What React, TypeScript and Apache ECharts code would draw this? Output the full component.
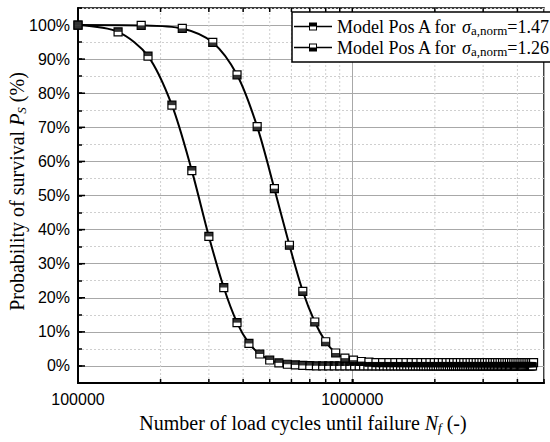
import React, { useEffect, useRef } from 'react';
import * as echarts from 'echarts';

// ---------- data ----------
const stressLevels = ['1.47', '1.26'];
const seriesNames = stressLevels.map((s) => `Model Pos A for σa,norm=${s}`);

// load cycles in units of 10^4
const cyclesLeft = [
  10, 14, 18, 22, 26, 30, 34, 38, 42, 46, 50, 54, 58, 62, 66, 70, 74, 78, 82, 86,
  90, 94, 98, 102, 106, 110, 114, 118, 122, 126, 130, 134, 138, 142, 146, 150, 154, 158, 162, 166,
  170, 174, 178, 182, 186, 190, 194, 198, 202, 206, 210, 214, 218, 222, 226, 230, 234, 238, 242, 246,
  250, 254, 258, 262, 266, 270, 274, 278, 282, 286, 290, 294, 298, 302, 306, 310, 314, 318, 322, 326,
  330, 334, 338, 342, 346, 350, 354, 358, 362, 366, 370, 374, 378, 382, 386, 390, 394, 398, 402, 406,
  410, 414, 418, 422, 426, 430, 434, 438, 442, 446, 450, 454,
];
const survivalLeft = [
  100, 98.0, 90.9, 76.5, 57.3, 38.0, 23.0, 12.7, 6.6, 3.5, 1.75, 0.9, 0.5, 0.3, 0.15, 0.1, 0.05, 0, 0, 0,
  0, 0, 0, 0, 0, 0, 0, 0, 0, 0, 0, 0, 0, 0, 0, 0, 0, 0, 0, 0,
  0, 0, 0, 0, 0, 0, 0, 0, 0, 0, 0, 0, 0, 0, 0, 0, 0, 0, 0, 0,
  0, 0, 0, 0, 0, 0, 0, 0, 0, 0, 0, 0, 0, 0, 0, 0, 0, 0, 0, 0,
  0, 0, 0, 0, 0, 0, 0, 0, 0, 0, 0, 0, 0, 0, 0, 0, 0, 0, 0, 0,
  0, 0, 0, 0, 0, 0, 0, 0, 0, 0, 0, 0,
];
const cyclesRight = [
  10, 17, 24, 31, 38, 45, 52, 59, 66, 73, 80, 87, 94, 101, 108, 115, 122, 129, 136, 143,
  150, 157, 164, 171, 178, 185, 192, 199, 206, 213, 220, 227, 234, 241, 248, 255, 262, 269, 276, 283,
  290, 297, 304, 311, 318, 325, 332, 339, 346, 353, 360, 367, 374, 381, 388, 395, 402, 409, 416, 423,
  430, 437, 444, 451, 458,
];
const survivalRight = [
  100, 99.9, 99.0, 94.9, 85.4, 70.2, 52.0, 35.4, 21.9, 12.9, 7.1, 3.8, 2.3, 1.7, 1.3, 1.1, 1.0, 1.0, 1.0, 1.0,
  1.0, 1.0, 1.0, 1.0, 1.0, 1.0, 1.0, 1.0, 1.0, 1.0, 1.0, 1.0, 1.0, 1.0, 1.0, 1.0, 1.0, 1.0, 1.0, 1.0,
  1.0, 1.0, 1.0, 1.0, 1.0, 1.0, 1.0, 1.0, 1.0, 1.0, 1.0, 1.0, 1.0, 1.0, 1.0, 1.0, 1.0, 1.0, 1.0, 1.0,
  1.0, 1.0, 1.0, 1.0, 1.0,
];
const CYCLE_UNIT = 1e4;

const xMinorTicks = [2e5, 3e5, 4e5, 5e5, 6e5, 7e5, 8e5, 9e5, 1e6, 2e6, 3e6, 4e6];
const yMajorTicks = [0, 10, 20, 30, 40, 50, 60, 70, 80, 90, 100];

const X_MIN = 1e5;
const X_MAX = 5e6;
const Y_MIN = -5;
const Y_MAX = 105;
const Y_STEP = 5;

// ---------- styling ----------
const SERIF = '"Liberation Serif", "DejaVu Serif", serif';
const SANS = '"Liberation Sans", Arial, sans-serif';

const ICON_TOP_BLACK = 'path://M0,3.3H15V4.7H0Z M23,3.3H38V4.7H23Z M15,0H23V8H15Z M16,4V7H22V4Z';
const ICON_BOTTOM_BLACK = 'path://M0,3.3H15V4.7H0Z M23,3.3H38V4.7H23Z M15,0H23V8H15Z M16,1V4H22V1Z';

const titleRich = {
  t: { fontFamily: SERIF, fontSize: 20, lineHeight: 22, color: '#000' },
  i: { fontFamily: SERIF, fontSize: 20, lineHeight: 22, fontStyle: 'italic', color: '#000' },
  sub: { fontFamily: SERIF, fontSize: 13, lineHeight: 13, fontStyle: 'italic', padding: [9, 0, 0, 0], color: '#000' },
};

const legendRich = {
  t: { fontFamily: SERIF, fontSize: 18, lineHeight: 18, color: '#000' },
  s: { fontFamily: SERIF, fontSize: 18, lineHeight: 18, fontStyle: 'italic', color: '#000' },
  sub: { fontFamily: SERIF, fontSize: 13, lineHeight: 10, padding: [8, 0, 0, 0], color: '#000' },
};

function isDecade(v: number) {
  const l = Math.log10(v);
  return Math.abs(l - Math.round(l)) < 1e-9;
}

export default function App() {
  const ref = useRef<HTMLDivElement>(null);

  useEffect(() => {
    if (!ref.current) return;
    document.body.style.margin = '0';
    const chart = echarts.init(ref.current, undefined, { renderer: 'svg' });

    const leftData = cyclesLeft.map((n, i) => [n * CYCLE_UNIT, survivalLeft[i]]);
    const rightData = cyclesRight.map((n, i) => [n * CYCLE_UNIT, survivalRight[i]]);

    const curve = (name: string, data: number[][]) => ({
      name,
      type: 'line',
      data,
      smooth: 0.3,
      symbol: 'rect',
      symbolSize: [8, 8],
      showAllSymbol: true,
      clip: true,
      lineStyle: { color: '#000', width: 2 },
      itemStyle: { color: '#fff', borderColor: '#000', borderWidth: 1.2 },
      z: 3,
    });
    const halves = (data: number[][], offsetY: number) => ({
      type: 'scatter',
      data,
      symbol: 'rect',
      symbolSize: [8, 4],
      symbolOffset: [0, offsetY],
      clip: true,
      silent: true,
      itemStyle: { color: '#000' },
      z: 4,
    });

    const option: any = {
      animation: false,
      backgroundColor: '#fff',
      grid: {
        left: 78,
        right: 6,
        top: 8,
        bottom: 59,
        containLabel: false,
        outerBoundsMode: 'none',
        show: true,
        borderColor: '#000',
        borderWidth: 1.5,
        backgroundColor: '#fff',
      },
      xAxis: {
        type: 'log',
        logBase: 10,
        min: X_MIN,
        max: X_MAX,
        name: '{t|Number of load cycles until failure }{i|N}{sub|f}{t| (-)}',
        nameLocation: 'middle',
        nameGap: 29,
        nameMoveOverlap: false,
        nameTextStyle: { rich: titleRich, padding: [0, 16, 0, 0] },
        axisLine: { show: true, onZero: false, lineStyle: { color: '#000', width: 2 } },
        axisTick: { show: true, inside: true, length: 4, lineStyle: { color: '#000', width: 1.5 } },
        axisLabel: {
          color: '#000',
          fontFamily: SANS,
          fontSize: 16,
          margin: 8,
          formatter: (v: number) => (isDecade(v) ? String(Math.round(v)) : ''),
        },
        splitLine: { show: true, lineStyle: { color: '#a8a8a8', width: 1, type: 'solid' } },
        minorTick: { show: false },
        minorSplitLine: { show: false },
      },
      yAxis: [
        {
          type: 'value',
          min: Y_MIN,
          max: Y_MAX,
          interval: Y_STEP,
          name: '{t|Probability of survival }{i|P}{sub|S}{t| (%)}',
          nameLocation: 'middle',
          nameGap: 50,
          nameMoveOverlap: false,
          nameTextStyle: { rich: titleRich, padding: [0, 0, 0, 8] },
          axisLine: { show: true, onZero: false, lineStyle: { color: '#000', width: 2 } },
          axisTick: { show: true, inside: true, length: 4, lineStyle: { color: '#000', width: 1.5 } },
          axisLabel: {
            color: '#000',
            fontFamily: SANS,
            fontSize: 16,
            margin: 8,
            formatter: (v: number) => {
              const r = Math.round(v);
              return r % 10 === 0 ? `${r}%` : '';
            },
          },
          splitLine: {
            show: true,
            lineStyle: { color: ['transparent', '#a8a8a8'], width: 1, type: 'solid' },
          },
        },
        {
          type: 'value',
          min: Y_MIN,
          max: Y_MAX,
          interval: Y_STEP,
          position: 'left',
          axisLine: { show: false, onZero: false },
          axisTick: { show: false },
          axisLabel: { show: false },
          splitLine: {
            show: true,
            lineStyle: { color: ['#cfcfcf', 'transparent'], width: 1, type: [2, 2] },
          },
        },
      ],
      legend: {
        orient: 'vertical',
        left: 292,
        top: 12,
        padding: [4, 8, 4, 2],
        itemWidth: 38,
        itemHeight: 8,
        itemGap: 0,
        backgroundColor: '#fff',
        borderColor: '#000',
        borderWidth: 1.5,
        borderRadius: 0,
        selectedMode: false,
        data: [
          { name: seriesNames[0], icon: ICON_TOP_BLACK, itemStyle: { color: '#000', borderWidth: 0 } },
          { name: seriesNames[1], icon: ICON_BOTTOM_BLACK, itemStyle: { color: '#000', borderWidth: 0 } },
        ],
        formatter: (name: string) => {
          const idx = seriesNames.indexOf(name);
          return `{t|Model Pos A for }{s|σ}{sub|a,norm}{t|=${stressLevels[idx]}}`;
        },
        textStyle: { color: '#000', rich: legendRich },
        z: 10,
      },
      series: [
        {
          type: 'custom',
          coordinateSystem: 'cartesian2d',
          silent: true,
          z: 1,
          data: xMinorTicks.map((v) => [v, 0]),
          renderItem: (params: any, api: any) => {
            const v = api.value(0);
            const b = api.coord([v, Y_MIN]);
            const t = api.coord([v, Y_MAX]);
            const children: any[] = [];
            if (!isDecade(v)) {
              children.push({
                type: 'line',
                shape: { x1: b[0], y1: b[1], x2: t[0], y2: t[1] },
                style: { stroke: '#cfcfcf', lineWidth: 1, lineDash: [2, 2] },
              });
            }
            children.push({
              type: 'line',
              shape: { x1: b[0], y1: b[1], x2: b[0], y2: b[1] - 4 },
              style: { stroke: '#000', lineWidth: 1.5 },
            });
            children.push({
              type: 'line',
              shape: { x1: t[0], y1: t[1], x2: t[0], y2: t[1] + 4 },
              style: { stroke: '#000', lineWidth: 1.5 },
            });
            return { type: 'group', children };
          },
        },
        {
          type: 'custom',
          coordinateSystem: 'cartesian2d',
          silent: true,
          z: 1,
          data: yMajorTicks.map((v) => [X_MIN, v]),
          renderItem: (params: any, api: any) => {
            const p = api.coord([X_MIN, api.value(1)]);
            return {
              type: 'line',
              shape: { x1: p[0], y1: p[1], x2: p[0] + 7, y2: p[1] },
              style: { stroke: '#000', lineWidth: 1.5 },
            };
          },
        },
        curve(seriesNames[0], leftData),
        halves(leftData, -2),
        curve(seriesNames[1], rightData),
        halves(rightData, 2),
      ],
    };

    chart.setOption(option);
    return () => chart.dispose();
  }, []);

  return (
    <div
      ref={ref}
      style={{ position: 'fixed', left: 0, top: 0, width: 550, height: 442, background: '#fff' }}
    />
  );
}
